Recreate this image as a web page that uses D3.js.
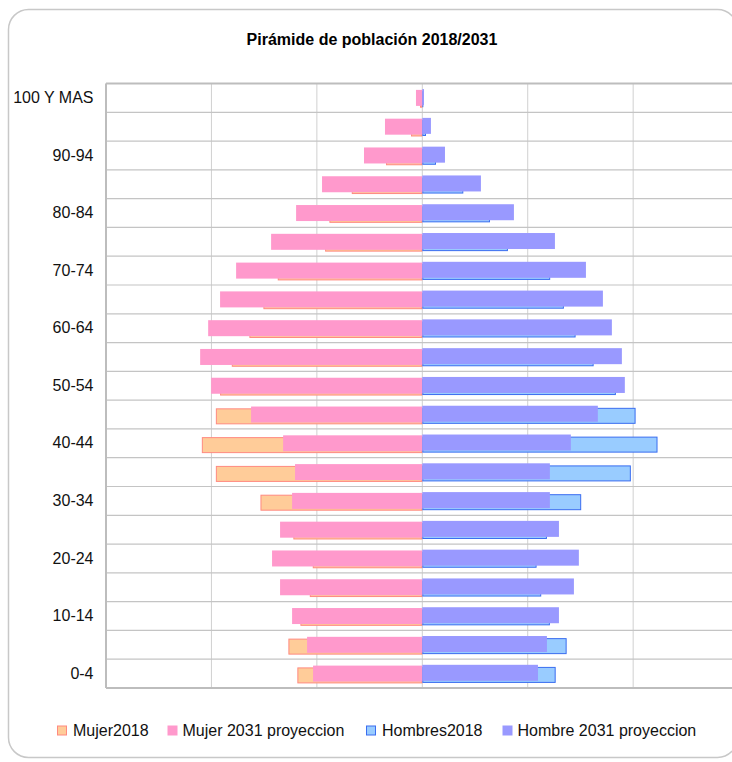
<!DOCTYPE html>
<html>
<head>
<meta charset="utf-8">
<script src="https://cdn.jsdelivr.net/npm/d3@7"></script>
<style>
  html, body { margin: 0; padding: 0; background: #fff; }
  svg { display: block; font-family: "Liberation Sans", Arial, sans-serif; }
</style>
</head>
<body>
<svg id="chart" width="732" height="762"></svg>
<script>
const title = "Pirámide de población 2018/2031";
const categories = ["0-4","5-9","10-14","15-19","20-24","25-29","30-34","35-39","40-44","45-49",
  "50-54","55-59","60-64","65-69","70-74","75-79","80-84","85-89","90-94","95-99","100 Y MAS"];
const labeledCategories = ["0-4","10-14","20-24","30-34","40-44","50-54","60-64","70-74","80-84","90-94","100 Y MAS"];
const seriesNames = ["Mujer2018", "Mujer 2031 proyeccion", "Hombres2018", "Hombre 2031 proyeccion"];
const mujer2018 = [1185,1270,1156,1067,1039,1223,1535,1958,2091,1958,1918,1807,1640,1507,1371,922,881,669,344,107,22];
const mujer2031 = [1036,1093,1235,1349,1425,1349,1235,1207,1320,1624,2003,2107,2031,1918,1766,1434,1197,951,553,354,60];
const hombres2018 = [1265,1369,1210,1128,1084,1182,1507,1978,2231,2023,1836,1625,1454,1343,1213,812,642,389,130,35,10];
const hombre2031 = [1097,1182,1296,1438,1485,1296,1210,1210,1409,1665,1921,1893,1798,1713,1552,1258,869,556,215,82,16];
const xDomain = [-3000, 3000];

const svg = d3.select("#chart");

// outer frame
svg.append("rect").attr("x", 8.5).attr("y", 9.5).attr("width", 729).attr("height", 748)
  .attr("rx", 20).attr("ry", 20).attr("fill", "#fff").attr("stroke", "#c8c8c8").attr("stroke-width", 1.5);

svg.append("text").attr("x", 372).attr("y", 44.5).attr("text-anchor", "middle")
  .attr("font-size", 16).attr("font-weight", "bold").attr("fill", "#000").text(title);

const plotTop = 83.5, plotBottom = 688;
const x = d3.scaleLinear().domain(xDomain).range([106, 738.6]);
const y = d3.scaleBand().domain(categories.slice().reverse()).range([plotTop, plotBottom]);
const bw = y.bandwidth();
const bh = 16;

const grid = svg.append("g");
// vertical grid
grid.selectAll("line.v").data(x.ticks(6)).join("line")
  .attr("x1", d => x(d)).attr("x2", d => x(d)).attr("y1", plotTop).attr("y2", plotBottom)
  .attr("stroke", "#d0d0d0").attr("stroke-width", 1);
// horizontal grid at band boundaries
const bounds = categories.map(c => y(c)).concat([plotBottom]);
grid.selectAll("line.h").data(bounds).join("line")
  .attr("x1", x(xDomain[0])).attr("x2", x(xDomain[1])).attr("y1", d => d).attr("y2", d => d)
  .attr("stroke", "#c4c4c4").attr("stroke-width", 1.2);
// plot frame edges
grid.append("line").attr("x1", x(xDomain[0])).attr("x2", x(xDomain[0])).attr("y1", plotTop).attr("y2", plotBottom)
  .attr("stroke", "#bdbdbd").attr("stroke-width", 2);
grid.append("line").attr("x1", x(xDomain[0])).attr("x2", x(xDomain[1])).attr("y1", plotTop).attr("y2", plotTop)
  .attr("stroke", "#bdbdbd").attr("stroke-width", 2);
grid.append("line").attr("x1", x(xDomain[0])).attr("x2", x(xDomain[1])).attr("y1", plotBottom).attr("y2", plotBottom)
  .attr("stroke", "#bdbdbd").attr("stroke-width", 2);

const rows = categories.map((c, i) => ({c, m18: mujer2018[i], m31: mujer2031[i], h18: hombres2018[i], h31: hombre2031[i]}));
const bars = svg.append("g");
const off31 = (bw - bh) / 2;
const off18 = off31 + 1.8;

// women 2018
bars.selectAll("rect.m18").data(rows).join("rect")
  .attr("x", d => x(-d.m18) + 0.5).attr("width", d => x(0) - x(-d.m18) - 1)
  .attr("y", d => y(d.c) + off18 + 0.5).attr("height", bh - 1)
  .attr("fill", "#FFCC99").attr("stroke", "#FF8A80").attr("stroke-width", 1);
// men 2018
bars.selectAll("rect.h18").data(rows).join("rect")
  .attr("x", x(0) + 0.5).attr("width", d => x(d.h18) - x(0) - 1)
  .attr("y", d => y(d.c) + off18 - 0.5 + 0.5).attr("height", bh - 1)
  .attr("fill", "#99CCFF").attr("stroke", "#3A6DF0").attr("stroke-width", 1);
// women 2031
bars.selectAll("rect.m31").data(rows).join("rect")
  .attr("x", d => x(-d.m31)).attr("width", d => x(0) - x(-d.m31))
  .attr("y", d => y(d.c) + off31).attr("height", bh)
  .attr("fill", "#FF99CC");
// men 2031
bars.selectAll("rect.h31").data(rows).join("rect")
  .attr("x", x(0)).attr("width", d => x(d.h31) - x(0))
  .attr("y", d => y(d.c) + off31 - 0.8).attr("height", bh)
  .attr("fill", "#9999FF");

// y axis labels
const yAxis = d3.axisLeft(y).tickValues(labeledCategories).tickSize(0).tickPadding(12.5);
const ax = svg.append("g").attr("transform", `translate(${x(xDomain[0])},0)`).call(yAxis);
ax.select(".domain").remove();
ax.selectAll("text").attr("font-size", 16).attr("fill", "#111").attr("font-family", "Liberation Sans, Arial, sans-serif");

// legend
const legendItems = [
  {name: seriesNames[0], fill: "#FFCC99", stroke: "#FF8A80", sx: 57.5, tx: 73},
  {name: seriesNames[1], fill: "#FF99CC", stroke: null, sx: 167.5, tx: 182.5},
  {name: seriesNames[2], fill: "#99CCFF", stroke: "#3A6DF0", sx: 366.5, tx: 382},
  {name: seriesNames[3], fill: "#9999FF", stroke: null, sx: 502.5, tx: 517.5}
];
const lg = svg.append("g");
legendItems.forEach(it => {
  lg.append("rect").attr("x", it.sx).attr("y", it.stroke ? 726 : 725.5)
    .attr("width", it.stroke ? 9 : 10).attr("height", it.stroke ? 9 : 10)
    .attr("fill", it.fill).attr("stroke", it.stroke || "none").attr("stroke-width", 1);
  lg.append("text").attr("x", it.tx).attr("y", 735.5).attr("font-size", 16).attr("fill", "#111").text(it.name);
});
</script>
</body>
</html>
